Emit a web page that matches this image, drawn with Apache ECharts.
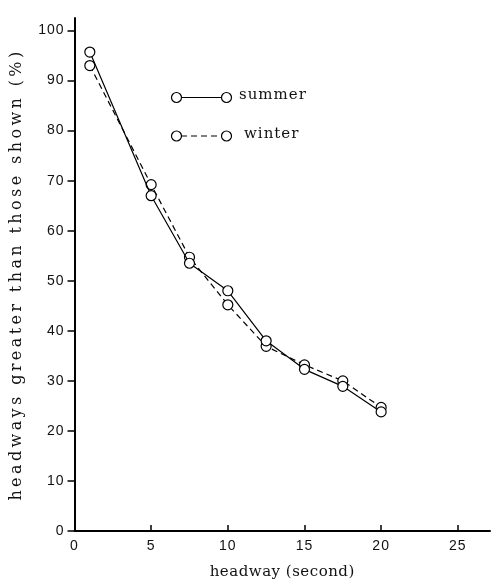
<!DOCTYPE html>
<html>
<head>
<meta charset="utf-8">
<script src="https://cdn.jsdelivr.net/npm/echarts@6/dist/echarts.min.js"></script>
<style>
  html, body { margin: 0; padding: 0; background: #fff; }
  #chart { width: 492px; height: 585px; }
</style>
</head>
<body>
<div id="chart"></div>
<script>
// headway (s) at which each point is read
var headways = [1, 5, 7.5, 10, 12.5, 15, 17.5, 20];
// % of headways greater than shown
var summerPct = [95.7, 67.0, 53.5, 48.0, 38.0, 32.3, 28.9, 23.8];
var winterPct = [93.0, 69.2, 54.7, 45.2, 36.9, 33.2, 30.0, 24.7];
var xTicks = [0, 5, 10, 15, 20, 25];
var yTicks = [0, 10, 20, 30, 40, 50, 60, 70, 80, 90, 100];

var xTitle = "headway (second)";
var yTitle = "headways greater than those shown (%)";

// the scanned figure sets its titles with wide letter spacing;
// zrender has no option for it, so add it when the canvas draws those strings
var spacing = {};
spacing[yTitle] = "3.4px";
spacing[xTitle] = "0.5px";
spacing["summer"] = "1px";
spacing["winter"] = "1px";

var origFillText = CanvasRenderingContext2D.prototype.fillText;
CanvasRenderingContext2D.prototype.fillText = function (text) {
  var s = spacing[text];
  if (!s || !("letterSpacing" in this)) return origFillText.apply(this, arguments);
  var prev = this.letterSpacing;
  this.letterSpacing = s;
  origFillText.apply(this, arguments);
  this.letterSpacing = prev;
};

var chart = echarts.init(document.getElementById("chart"));

function pairs(xs, ys) {
  return xs.map(function (x, i) { return [x, ys[i]]; });
}

var serif = "DejaVu Serif";
var tickFont = "Liberation Sans, sans-serif";

var option = {
  animation: false,
  backgroundColor: "#fff",
  grid: { left: 74.5, right: 2, top: 18, bottom: 52.5 },
  xAxis: {
    type: "value",
    min: 0,
    max: 27.1,
    interval: 5,
    name: xTitle,
    nameLocation: "middle",
    nameGap: 34,
    nameTextStyle: { fontFamily: serif, fontSize: 15, color: "#111" },
    axisLine: { onZero: false, lineStyle: { color: "#000", width: 2 } },
    axisTick: { inside: true, length: 6, lineStyle: { color: "#000", width: 1.5 } },
    axisLabel: {
      fontFamily: tickFont, fontSize: 14, color: "#111", margin: 8,
      showMaxLabel: false,
      formatter: function (v) { return xTicks.indexOf(v) >= 0 ? String(v) : ""; }
    },
    splitLine: { show: false }
  },
  yAxis: {
    type: "value",
    min: 0,
    max: 102.5,
    interval: 10,
    name: yTitle,
    nameLocation: "middle",
    nameRotate: 90,
    nameGap: 50,
    nameTextStyle: { fontFamily: serif, fontSize: 16, color: "#111" },
    axisLine: { onZero: false, lineStyle: { color: "#000", width: 2 } },
    axisTick: { length: 7, lineStyle: { color: "#000", width: 1.5 } },
    axisLabel: {
      fontFamily: tickFont, fontSize: 14, color: "#111", margin: 10,
      showMaxLabel: false,
      formatter: function (v) { return yTicks.indexOf(v) >= 0 ? String(v) : ""; }
    },
    splitLine: { show: false }
  },
  series: [
    {
      name: "summer",
      type: "line",
      data: pairs(headways, summerPct),
      symbol: "circle",
      symbolSize: 10,
      itemStyle: { color: "#fff", borderColor: "#000", borderWidth: 1.2 },
      lineStyle: { color: "#000", width: 1.2 },
      z: 3
    },
    {
      name: "winter",
      type: "line",
      data: pairs(headways, winterPct),
      symbol: "circle",
      symbolSize: 10,
      itemStyle: { color: "#fff", borderColor: "#000", borderWidth: 1.2 },
      lineStyle: { color: "#000", width: 1.2, type: [6, 4] },
      z: 2
    }
  ],
  // legend drawn by hand: circle - line - circle, then the name
  graphic: [
    { type: "line", shape: { x1: 181, y1: 97.5, x2: 222, y2: 97.5 }, style: { stroke: "#000", lineWidth: 1.2 } },
    { type: "circle", shape: { cx: 176.5, cy: 97.5, r: 5 }, style: { fill: "#fff", stroke: "#000", lineWidth: 1.2 } },
    { type: "circle", shape: { cx: 226.5, cy: 97.5, r: 5 }, style: { fill: "#fff", stroke: "#000", lineWidth: 1.2 } },
    { type: "text", left: 239, top: 88, style: { text: "summer", font: "15px " + serif, fill: "#111" } },
    { type: "line", shape: { x1: 181, y1: 136, x2: 222, y2: 136 }, style: { stroke: "#000", lineWidth: 1.2, lineDash: [6, 4] } },
    { type: "circle", shape: { cx: 176.5, cy: 136, r: 5 }, style: { fill: "#fff", stroke: "#000", lineWidth: 1.2 } },
    { type: "circle", shape: { cx: 226.5, cy: 136, r: 5 }, style: { fill: "#fff", stroke: "#000", lineWidth: 1.2 } },
    { type: "text", left: 244, top: 126.5, style: { text: "winter", font: "15px " + serif, fill: "#111" } }
  ]
};

chart.setOption(option);
window.onresize = chart.resize;
</script>
</body>
</html>
